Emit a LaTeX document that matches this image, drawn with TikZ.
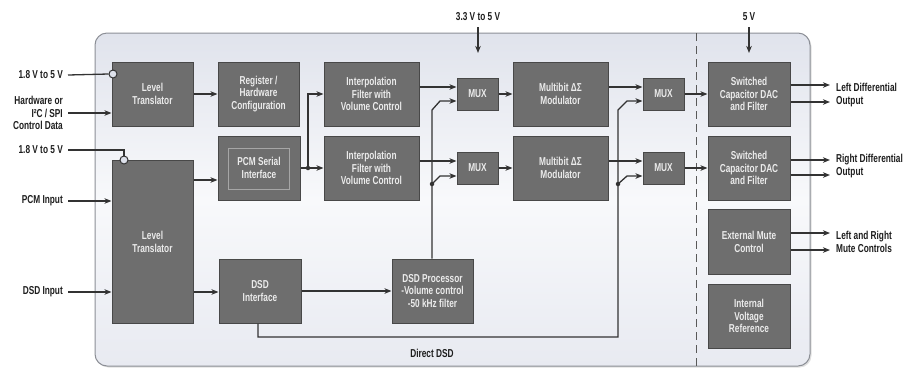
\documentclass[tikz,border=0pt]{standalone}
\usepackage{fontspec}
\newfontfamily\cond[FakeStretch=0.72]{Liberation Sans}
\usetikzlibrary{arrows.meta,shadows}
\definecolor{blkfill}{HTML}{6E6E6E}
\definecolor{blkdraw}{HTML}{484848}
\definecolor{wire}{HTML}{333333}
\definecolor{txt}{HTML}{1E1E1E}
\definecolor{boxtop}{HTML}{E0E3EC}
\definecolor{boxmid}{HTML}{F8F9FB}
\definecolor{boxbot}{HTML}{E8EAF1}
\definecolor{boxdraw}{HTML}{8C8F96}
\definecolor{circfill}{HTML}{DDE1EB}
\begin{document}
\begin{tikzpicture}[x=1pt,y=-1pt,
  blk/.style={draw=blkdraw, line width=1pt, fill=blkfill, text=white!92!black,
    font=\cond\bfseries\fontsize{11.5}{12.8}\selectfont, align=center, inner sep=0pt,
    drop shadow={opacity=0.3, shadow xshift=1.2pt, shadow yshift=-1.2pt}},
  big/.style={blk, minimum width=81pt, minimum height=64pt},
  wide/.style={blk, minimum width=95pt, minimum height=64pt},
  mux/.style={blk, minimum width=41pt, minimum height=32pt},
  lbl/.style={text=txt, font=\cond\bfseries\fontsize{11.5}{12.8}\selectfont, inner sep=0pt},
  wire/.style={draw=wire, line width=1.3pt},
  arr/.style={wire, -{Stealth[length=7pt,width=5.5pt,inset=2pt]}},
  dot/.style={circle, fill=wire, inner sep=0pt, minimum size=4.5pt},
  vcirc/.style={circle, draw=wire, line width=1pt, fill=circfill, inner sep=0pt, minimum size=8pt}
]
\useasboundingbox (0,0) rectangle (916,368);

% outer chip box
\path[draw=boxdraw, line width=1pt, rounded corners=12pt, top color=boxtop, bottom color=boxbot, middle color=boxmid,
  drop shadow={opacity=0.25, shadow xshift=1.5pt, shadow yshift=-1.5pt}] (95,33) rectangle (810,366);
\draw[draw=black!65, line width=0.8pt, dash pattern=on 8pt off 5pt] (696,33) -- (696,366);

% blocks
\node[big] (lt1) at (152.5,94) {Level\\Translator};
\node[big] (reg) at (258.5,94) {Register /\\Hardware\\Configuration};
\node[blk, minimum width=82pt, minimum height=64pt] (pcm) at (259,168) {};
\draw[white!65!black, line width=0.6pt] (228,148) rectangle (289,189);
\node[text=white!92!black, font=\cond\bfseries\fontsize{11.5}{12.8}\selectfont, align=center, inner sep=0pt] (pcmt) at (pcm.center) {PCM Serial\\Interface};
\node[blk, minimum width=81pt, minimum height=163pt] (lt2) at (152.5,241.5) {Level\\Translator};
\node[blk, minimum width=82pt, minimum height=64pt] (dsdi) at (260,291) {DSD\\Interface};
\node[wide] (int1) at (371.5,94) {Interpolation\\Filter with\\Volume Control};
\node[wide] (int2) at (371.5,168) {Interpolation\\Filter with\\Volume Control};
\node[mux] (mux1) at (477.5,94) {MUX};
\node[mux] (mux2) at (477.5,168) {MUX};
\node[wide] (mb1) at (560.5,94) {Multibit ΔΣ\\Modulator};
\node[wide] (mb2) at (560.5,168) {Multibit ΔΣ\\Modulator};
\node[big] (dsdp) at (432.5,291) {DSD Processor\\-Volume control\\-50 kHz filter};
\node[mux] (mux3) at (663.5,94) {MUX};
\node[mux] (mux4) at (663.5,168) {MUX};
\node[blk, minimum width=82pt, minimum height=64pt] (sc1) at (749,94) {Switched\\Capacitor DAC\\and Filter};
\node[blk, minimum width=82pt, minimum height=64pt] (sc2) at (749,168) {Switched\\Capacitor DAC\\and Filter};
\node[blk, minimum width=82pt, minimum height=65pt] (mute) at (749,241.5) {External Mute\\Control};
\node[blk, minimum width=82pt, minimum height=64pt] (ivr) at (749,316) {Internal\\Voltage\\Reference};

% outside labels
\node[lbl, anchor=east] (v1) at (63,75) {1.8 V to 5 V};
\node[lbl, anchor=east, align=right] (ctl) at (63,113) {Hardware or\\I²C / SPI\\Control Data};
\node[lbl, anchor=east] (v2) at (63,150) {1.8 V to 5 V};
\node[lbl, anchor=east] (pcmin) at (63,201) {PCM Input};
\node[lbl, anchor=east] (dsdin) at (63,292) {DSD Input};
\node[lbl] (v33) at (478,17) {3.3 V to 5 V};
\node[lbl] (v5) at (749,17) {5 V};
\node[lbl, anchor=west, align=left] (lout) at (836,95) {Left Differential\\Output};
\node[lbl, anchor=west, align=left] (rout) at (836,166) {Right Differential\\Output};
\node[lbl, anchor=west, align=left] (mout) at (836,241.5) {Left and Right\\Mute Controls};
\node[lbl] (ddsd) at (432,353) {Direct DSD};

% supply circles
\node[vcirc] (c1) at (113,74) {};
\node[vcirc] (c2) at (124,160) {};
\draw[wire] (v1.east) ++(5,0) coordinate (v1s) -- (c1.west);
\draw[wire] (v2.east) ++(5,0) coordinate (v2s) -- (124,150) -- (c2.north);

% inputs
\draw[arr] (ctl.east |- 0,113) ++(5,0) -- (lt1.west |- 0,113);
\draw[arr] (pcmin.east) ++(5,0) -- (lt2.west |- 0,201);
\draw[arr] (dsdin.east) ++(5,0) -- (lt2.west |- 0,292);

% supplies from top
\draw[arr] (v33.south) ++(0,6) -- (478,53) coordinate (v33e);
\draw[arr] (v5.south) ++(0,6) -- (749,53) coordinate (v5e);

% internal connections
\draw[arr] (lt1.east) -- (reg.west);
\draw[arr] (lt2.east |- 0,180) -- (pcm.west |- 0,180);
\draw[arr] (lt2.east |- 0,292) -- (dsdi.west |- 0,292);
\draw[arr] (dsdi.east) -- (dsdp.west);

\coordinate (jp) at (308,168);
\draw[wire] (pcm.east) -- (jp);
\draw[arr] (jp) -- (int2.west);
\draw[arr] (jp) |- (int1.west);
\node[dot] at (jp) {};

\draw[arr] (int1.east |- 0,87) -- (mux1.west |- 0,87);
\draw[arr] (int2.east |- 0,161) -- (mux2.west |- 0,161);
\draw[arr] (mux1.east) -- (mb1.west);
\draw[arr] (mux2.east) -- (mb2.west);
\draw[arr] (mb1.east |- 0,87) -- (mux3.west |- 0,87);
\draw[arr] (mb2.east |- 0,161) -- (mux4.west |- 0,161);
\draw[arr] (mux3.east) -- (sc1.west);
\draw[arr] (mux4.east) -- (sc2.west);

% DSD processor path
\coordinate (ja) at (432,184);
\draw[arr] (dsdp.north -| ja) -- (ja) -- (432,110) -- (440,101) -- (mux1.west |- 0,101);
\draw[arr] (ja) -- (440,176) -- (mux2.west |- 0,176);
\node[dot] at (ja) {};

% Direct DSD path
\coordinate (jb) at (618,184);
\draw[arr] (dsdi.south -| 258,0) -- (258,337) -- (618,337) -- (jb) -- (618,110) -- (627,101) -- (mux3.west |- 0,101);
\draw[arr] (jb) -- (627,176) -- (mux4.west |- 0,176);
\node[dot] at (jb) {};

% outputs
\draw[arr] (sc1.east |- 0,85) -- (830,85) coordinate (o1);
\draw[arr] (sc1.east |- 0,102) -- (830,102) coordinate (o2);
\draw[arr] (sc2.east |- 0,160) -- (830,160) coordinate (o3);
\draw[arr] (sc2.east |- 0,175) -- (830,175) coordinate (o4);
\draw[arr] (mute.east |- 0,233) -- (830,233) coordinate (o5);
\draw[arr] (mute.east |- 0,250) -- (830,250) coordinate (o6);
\end{tikzpicture}
\end{document}
